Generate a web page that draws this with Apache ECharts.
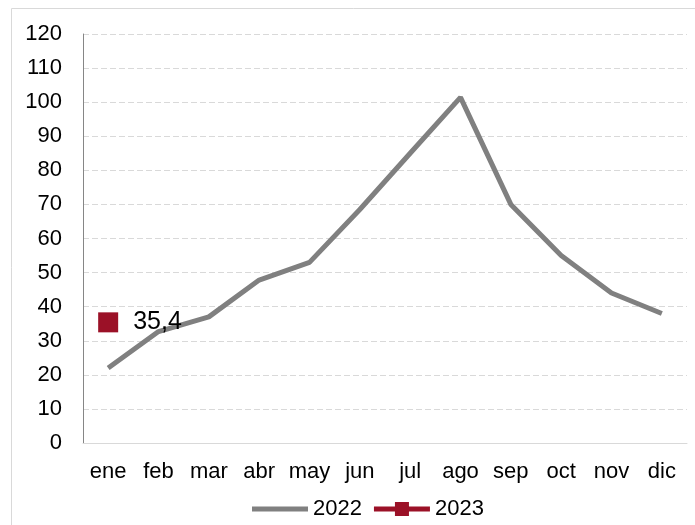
<!DOCTYPE html>
<html>
<head>
<meta charset="utf-8">
<script src="https://cdn.jsdelivr.net/npm/echarts@6/dist/echarts.min.js"></script>
<style>
  html, body { margin: 0; padding: 0; background: #fff; }
  #chart { width: 695px; height: 525px; }
</style>
</head>
<body>
<div id="chart"></div>
<script>
// datos
var months = ['ene', 'feb', 'mar', 'abr', 'may', 'jun', 'jul', 'ago', 'sep', 'oct', 'nov', 'dic'];
var values2022 = [22, 32.7, 37, 47.8, 53, 68.5, 85, 101.4, 70, 55, 44, 38];
var values2023 = [35.4, null, null, null, null, null, null, null, null, null, null, null];

var myChart = echarts.init(document.getElementById('chart'));
var font = 'Liberation Sans, Arial, sans-serif';

// iconos de la leyenda (linea gruesa / linea con cuadrado)
var iconLine = 'path://M0,0 L56,0 L56,5 L0,5 Z';
var iconLineRect = 'path://M0,4.5 L21,4.5 L21,0 L35,0 L35,4.5 L56,4.5 L56,9.5 L35,9.5 L35,14 L21,14 L21,9.5 L0,9.5 Z';

var option = {
    animation: false,
    textStyle: { fontFamily: font },
    graphic: [
        {
            type: 'rect',
            shape: { x: 11.5, y: 8.5, width: 700, height: 540 },
            style: { fill: 'none', stroke: '#d9d9d9', lineWidth: 1 },
            silent: true
        }
    ],
    grid: { left: 83, right: 8, top: 34, bottom: 82 },
    legend: {
        top: 498,
        left: 252,
        padding: 0,
        itemWidth: 56,
        itemHeight: 14,
        itemGap: 12,
        textStyle: { color: '#000', fontSize: 22, fontFamily: font },
        data: [
            { name: '2022', icon: iconLine, itemStyle: { color: '#808080' } },
            { name: '2023', icon: iconLineRect, itemStyle: { color: '#9b1127' } }
        ]
    },
    xAxis: {
        type: 'category',
        data: months,
        boundaryGap: true,
        axisLine: { lineStyle: { color: '#d9d9d9', width: 1 } },
        axisTick: { show: false },
        axisLabel: { color: '#000', fontSize: 22, margin: 18, interval: 0, fontFamily: font }
    },
    yAxis: {
        type: 'value',
        min: 0,
        max: 120,
        interval: 10,
        axisLine: { show: true, lineStyle: { color: '#868686', width: 1 } },
        axisTick: { show: false },
        axisLabel: { color: '#000', fontSize: 22, margin: 21, fontFamily: font },
        splitLine: { lineStyle: { color: '#d9d9d9', type: [6, 3], width: 1 } }
    },
    series: [
        {
            name: '2022',
            type: 'line',
            data: values2022,
            symbol: 'none',
            lineStyle: { color: '#808080', width: 5 },
            itemStyle: { color: '#808080' }
        },
        {
            name: '2023',
            type: 'line',
            data: values2023,
            symbol: 'rect',
            symbolSize: 20,
            lineStyle: { color: '#9b1127', width: 5 },
            itemStyle: { color: '#9b1127' },
            label: {
                show: true,
                position: 'right',
                distance: 15,
                color: '#000',
                fontSize: 25,
                fontFamily: font,
                formatter: function (p) {
                    return String(p.value).replace('.', ',');
                }
            }
        }
    ]
};

myChart.setOption(option);
</script>
</body>
</html>
